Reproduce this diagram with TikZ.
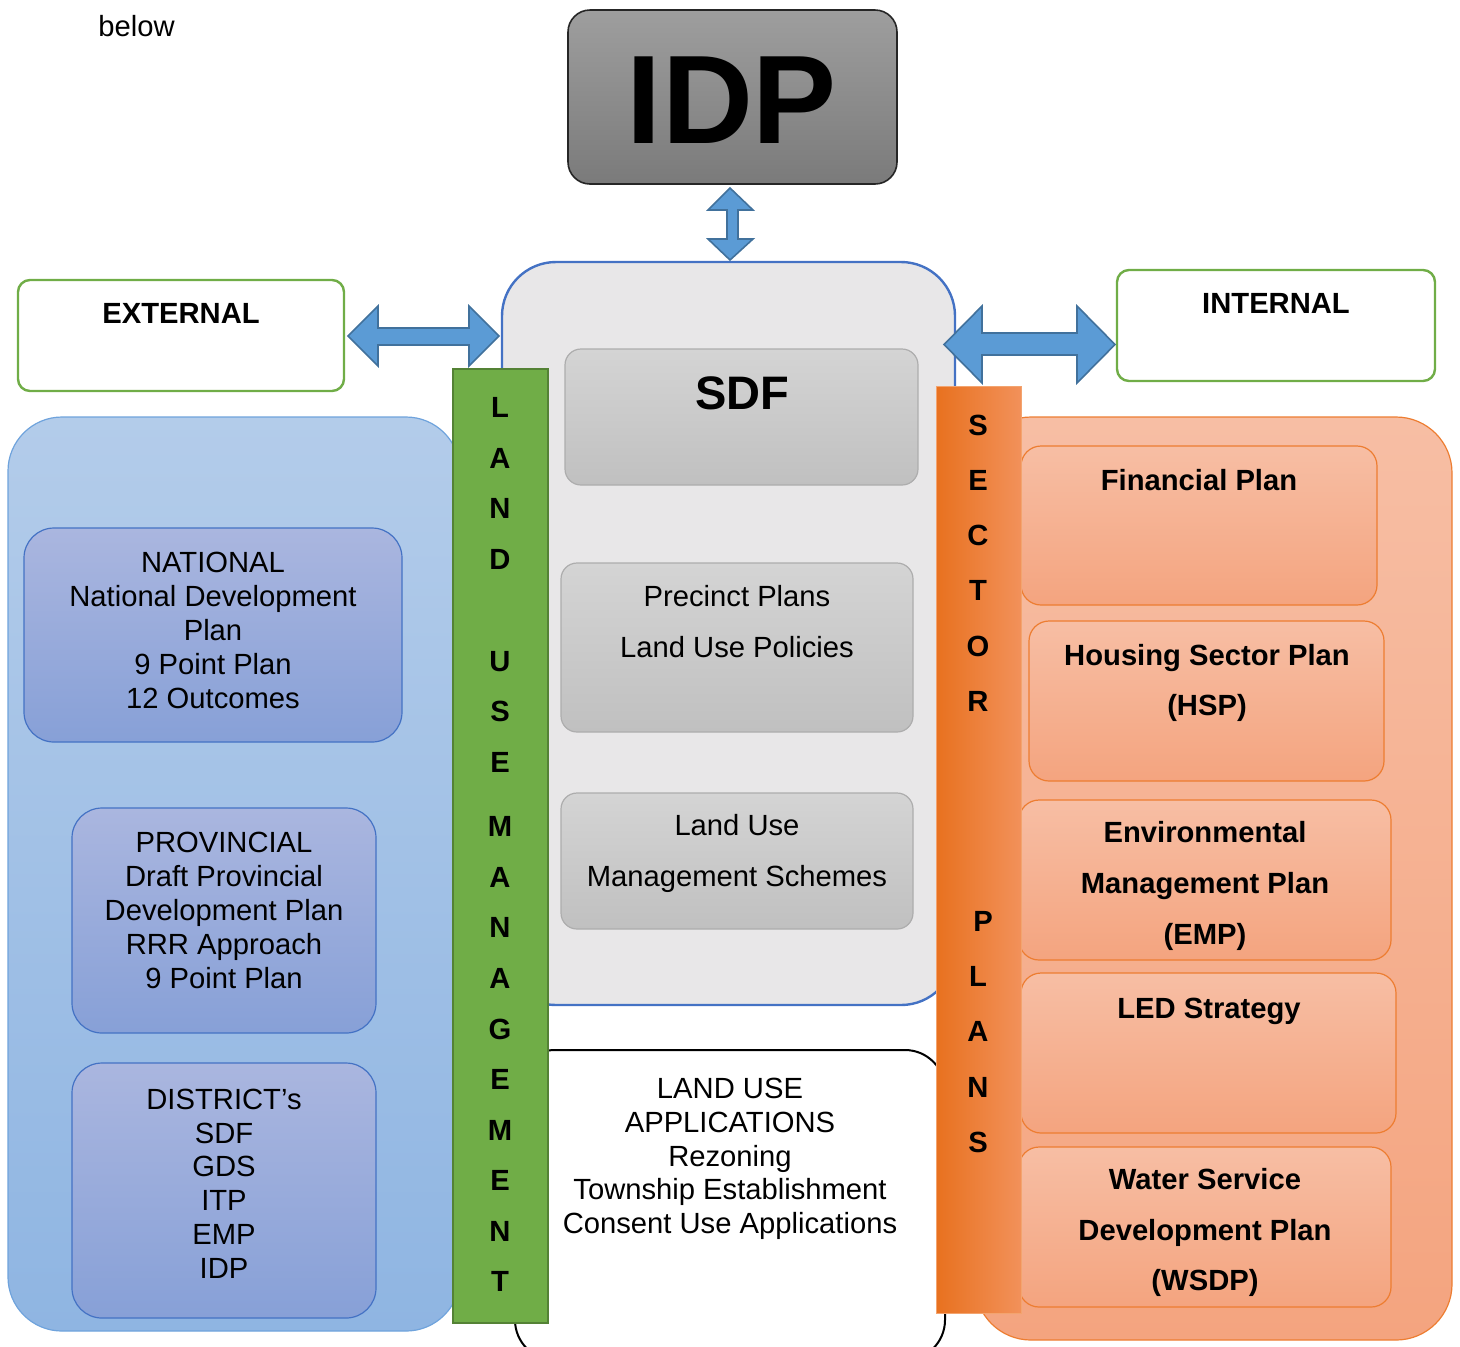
\documentclass[tikz,border=0pt]{standalone}
\usepackage{fontspec}
\setmainfont{Liberation Sans}

\definecolor{arrowfill}{HTML}{5B9BD5}
\definecolor{arrowline}{HTML}{41719C}
\definecolor{planblue}{HTML}{4472C4}
\definecolor{paneltop}{HTML}{B3CCEA}
\definecolor{panelbot}{HTML}{8FB5E2}
\definecolor{paneledge}{HTML}{6FA3DC}
\definecolor{tiertop}{HTML}{AAB6DF}
\definecolor{tierbot}{HTML}{87A0D7}
\definecolor{sdfgrey}{HTML}{E8E7E8}
\definecolor{cardtop}{HTML}{D4D4D4}
\definecolor{cardbot}{HTML}{C0C0C0}
\definecolor{cardedge}{HTML}{ADADAD}
\definecolor{lumgreen}{HTML}{70AD47}
\definecolor{lumedge}{HTML}{548235}
\definecolor{secorange}{HTML}{ED7D31}
\definecolor{secleft}{HTML}{E8711F}
\definecolor{secmid}{HTML}{F27F2A}
\definecolor{secright}{HTML}{F2915A}
\definecolor{peachtop}{HTML}{F7BEA4}
\definecolor{peachbot}{HTML}{F4A47F}

\tikzset{
  plaintext/.style={font=\fontsize{14.6}{16.9}\selectfont, align=center, inner sep=0pt},
  spacedtext/.style={font=\fontsize{14.6}{25.4}\selectfont, align=center, inner sep=0pt},
  boldtext/.style={font=\fontsize{14.6}{25.4}\selectfont\bfseries, align=center, inner sep=0pt},
  bartext/.style={font=\fontsize{14.6}{16.9}\selectfont\bfseries, inner sep=0pt, anchor=base},
  scopebox/.style={draw=lumgreen, line width=1.2pt, fill=white, rounded corners=6pt},
  bluepanel/.style={draw=paneledge, line width=0.6pt, top color=paneltop, bottom color=panelbot, rounded corners=27pt},
  tierbox/.style={draw=planblue, line width=0.6pt, top color=tiertop, bottom color=tierbot, rounded corners=15pt},
  sdfpanel/.style={draw=planblue, line width=1.2pt, fill=sdfgrey, rounded corners=27pt},
  sdfcard/.style={draw=cardedge, line width=0.6pt, top color=cardtop, bottom color=cardbot, rounded corners=8pt},
  luabox/.style={draw=black, line width=1pt, fill=white, rounded corners=20pt},
  peachpanel/.style={draw=secorange, line width=0.6pt, top color=peachtop, bottom color=peachbot, rounded corners=28pt},
  sectorbox/.style={draw=secorange, line width=0.6pt, top color=peachtop, bottom color=peachbot, rounded corners=10pt},
  blockarrow/.style={draw=arrowline, line width=0.8pt, fill=arrowfill, line join=miter}
}

\begin{document}
\begin{tikzpicture}[x=0.5pt,y=-0.5pt]
\path[use as bounding box] (0,0) rectangle (1460,1346);
\clip (0,0) rectangle (1460,1346);

\node[plaintext, anchor=base west] (below) at (98,36) {below};

% big panels
\draw[bluepanel] (8,417) rectangle (460,1331);
\draw[sdfpanel] (502,262) rectangle (955,1005);
\draw[luabox] (515,1050) rectangle (945,1360);
\draw[peachpanel] (975,417) rectangle (1452,1340);

% external / internal
\draw[scopebox] (18,280) rectangle (344,391);
\node[boldtext] (external) at (181,313) {EXTERNAL};
\draw[scopebox] (1117,270) rectangle (1435,381);
\node[boldtext] (internal) at (1276,303) {INTERNAL};

% spheres of government
\draw[tierbox] (24,528) rectangle (402,742);
\node[plaintext] (national) at (213,630.5) {NATIONAL\\National Development\\Plan\\9 Point Plan\\12 Outcomes};
\draw[tierbox] (72,808) rectangle (376,1033);
\node[plaintext] (provincial) at (224,910.5) {PROVINCIAL\\Draft Provincial\\Development Plan\\RRR Approach\\9 Point Plan};
\draw[tierbox] (72,1063) rectangle (376,1318);
\node[plaintext] (district) at (224,1183.5) {DISTRICT’s\\SDF\\GDS\\ITP\\EMP\\IDP};

% SDF column
\draw[sdfcard] (565,349) rectangle (918,485);
\node[font=\fontsize{23.5}{28}\selectfont\bfseries, inner sep=0pt] (sdf) at (742,393) {SDF};
\draw[sdfcard] (561,563) rectangle (913,732);
\node[spacedtext] (precinct) at (737,621.5) {Precinct Plans\\Land Use Policies};
\draw[sdfcard] (561,793) rectangle (913,929);
\node[spacedtext] (lums) at (737,853.5) {Land Use\\Management Schemes};

\node[plaintext] (applications) at (730,1159) {LAND USE\\APPLICATIONS\\Rezoning\\Township Establishment\\Consent Use Applications};

% sector plans
\draw[sectorbox] (1021,446) rectangle (1377,605);
\node[boldtext, anchor=base] (financial) at (1199,490.5) {Financial Plan};
\draw[sectorbox] (1029,621) rectangle (1384,781);
\node[boldtext] (housing) at (1207,683) {Housing Sector Plan\\(HSP)};
\draw[sectorbox] (1019,800) rectangle (1391,960);
\node[boldtext] (environmental) at (1205,886) {Environmental\\Management Plan\\(EMP)};
\draw[sectorbox] (1021,973) rectangle (1396,1133);
\node[boldtext, anchor=base] (led) at (1209,1018.5) {LED Strategy};
\draw[sectorbox] (1019,1147) rectangle (1391,1307);
\node[boldtext] (water) at (1205,1232.5) {Water Service\\Development Plan\\(WSDP)};

% vertical bars
\draw[fill=lumgreen, draw=lumedge, line width=1pt] (453,369) rectangle (548,1323);
\foreach \ch/\yy [count=\i] in {L/407,A/458,N/508,D/559,U/661,S/711,E/762,M/826,A/877,N/927,A/978,G/1029,E/1079,M/1130,E/1180,N/1231,T/1281}
  \node[bartext] (lum\i) at (500,\yy+10.5) {\ch};

\path[left color=secleft, middle color=secmid, right color=secright] (936,386) rectangle (1021,1313);
\draw[secorange!70, line width=0.5pt] (936,386) rectangle (1021,1313);
\foreach \ch/\xx/\yy [count=\i] in {S/978/425,E/978/480,C/978/535,T/978/590,O/978/646,R/978/701,P/983/921,L/978/976,A/978/1031,N/978/1087,S/978/1142}
  \node[bartext] (sec\i) at (\xx,\yy+10.5) {\ch};

% block arrows
\draw[blockarrow] (348,336) -- (378,306) -- (378,328) -- (469,328) -- (469,306) -- (499,336)
  -- (469,366) -- (469,345) -- (378,345) -- (378,366) -- cycle;
\draw[blockarrow] (944,344.5) -- (982,306) -- (982,333) -- (1077,333) -- (1077,306) -- (1115,344.5)
  -- (1077,383) -- (1077,355) -- (982,355) -- (982,383) -- cycle;
\draw[blockarrow] (730,188) -- (753,210) -- (738,210) -- (738,239) -- (753,239) -- (730,260)
  -- (708,239) -- (727,239) -- (727,210) -- (708,210) -- cycle;

% IDP
\draw[draw=black!85, line width=0.8pt, top color=black!38, bottom color=black!52, rounded corners=11pt] (568,10) rectangle (897,184);
\node[font=\fontsize{63}{70}\selectfont\bfseries, inner sep=0pt] (idp) at (732,100) {IDP};
\end{tikzpicture}
\end{document}
